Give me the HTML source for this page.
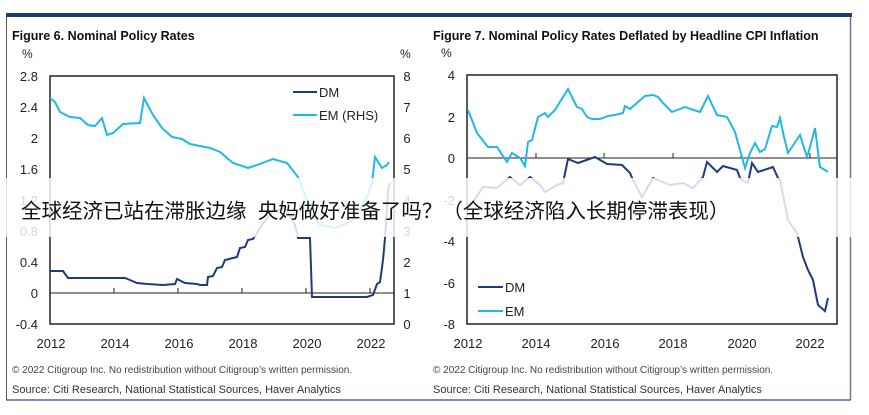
<!DOCTYPE html>
<html><head><meta charset="utf-8"><style>
body{margin:0;background:#fff;width:869px;height:415px;overflow:hidden}
svg{display:block;font-family:"Liberation Sans",Arial,sans-serif}
</style></head><body>
<svg width="869" height="415" viewBox="0 0 869 415">
<rect x="6" y="13" width="846" height="4" fill="#1f3b73"/>
<line x1="6.5" y1="17" x2="6.5" y2="400" stroke="#555" stroke-width="1"/>
<line x1="850.5" y1="17" x2="850.5" y2="400" stroke="#777" stroke-width="1.5"/>
<line x1="6" y1="400" x2="851" y2="400" stroke="#4a6a9a" stroke-width="1.5"/>

<!-- Left chart -->
<text x="12" y="40" font-size="12.5" font-weight="bold" fill="#111">Figure 6. Nominal Policy Rates</text>
<text x="22" y="58" font-size="12" fill="#222">%</text>
<text x="400" y="58" font-size="12" fill="#222">%</text>
<g font-size="13" fill="#222" text-anchor="end">
<text x="38" y="81">2.8</text><text x="38" y="112">2.4</text><text x="38" y="143">2</text><text x="38" y="174">1.6</text><text x="38" y="205">1.2</text><text x="38" y="236">0.8</text><text x="38" y="267">0.4</text><text x="38" y="298">0</text><text x="38" y="329">-0.4</text>
</g>
<g font-size="13" fill="#222" text-anchor="middle">
<text x="407" y="81">8</text><text x="407" y="112">7</text><text x="407" y="143">6</text><text x="407" y="174">5</text><text x="407" y="205">4</text><text x="407" y="236">3</text><text x="407" y="267">2</text><text x="407" y="298">1</text><text x="407" y="329">0</text>
<text x="51" y="348">2012</text><text x="115" y="348">2014</text><text x="179" y="348">2016</text><text x="243" y="348">2018</text><text x="307" y="348">2020</text><text x="371" y="348">2022</text>
</g>
<rect x="50" y="76" width="344" height="248" fill="none" stroke="#222" stroke-width="1.5"/>
<line x1="50" y1="293" x2="394" y2="293" stroke="#222" stroke-width="1"/>
<g stroke="#222" stroke-width="1"><line x1="114" y1="293" x2="114" y2="288"/><line x1="178" y1="293" x2="178" y2="288"/><line x1="242" y1="293" x2="242" y2="288"/><line x1="306" y1="293" x2="306" y2="288"/><line x1="370" y1="293" x2="370" y2="288"/></g>
<polyline fill="none" stroke="#1fb8e8" stroke-width="2" points="50,98 55,102 60,112 70,117 80,118 88,125 95,126 102,118 107,135 113,133 123,124 140,123 144,98 153,115 162,128 172,137 182,139 190,144 200,146 210,148 220,152 233,163 248,168 257,165 273,159 287,163 298,177 305,195 312,215 320,225 335,228 350,222 360,210 368,195 372,183 375,157 382,168 387,165 389,162"/>
<polyline fill="none" stroke="#1f3b7a" stroke-width="2" points="50,271 63,271 68,278 125,278 130,280 137,283 147,284 163,285 175,284 177,279 185,283 197,284 200,285 207,285 208,277 213,276 217,268 222,267 225,260 237,257 240,248 245,247 248,240 253,239 262,225 272,212 285,208 295,225 298,238 310,238 312,297 367,297 373,295 377,284 380,282 383,260 385,238 388,190 390,183"/>
<line x1="293" y1="92" x2="317" y2="92" stroke="#1f3b7a" stroke-width="2"/>
<text x="319" y="97" font-size="13" fill="#222">DM</text>
<line x1="293" y1="115" x2="317" y2="115" stroke="#1fb8e8" stroke-width="2"/>
<text x="319" y="120" font-size="13" fill="#222">EM (RHS)</text>
<text x="12" y="373" font-size="10" fill="#444">© 2022 Citigroup Inc. No redistribution without Citigroup’s written permission.</text>
<text x="12" y="393" font-size="11" fill="#333">Source: Citi Research, National Statistical Sources, Haver Analytics</text>

<!-- Right chart -->
<text x="433" y="40" font-size="12.5" font-weight="bold" fill="#111">Figure 7. Nominal Policy Rates Deflated by Headline CPI Inflation</text>
<text x="441" y="57" font-size="12" fill="#222">%</text>
<g font-size="13" fill="#222" text-anchor="end">
<text x="455" y="80">4</text><text x="455" y="122">2</text><text x="455" y="163">0</text><text x="455" y="205">-2</text><text x="455" y="246">-4</text><text x="455" y="288">-6</text><text x="455" y="329">-8</text>
</g>
<g font-size="13" fill="#222" text-anchor="middle">
<text x="468" y="348">2012</text><text x="536" y="348">2014</text><text x="605" y="348">2016</text><text x="673" y="348">2018</text><text x="742" y="348">2020</text><text x="810" y="348">2022</text>
</g>
<rect x="467" y="75" width="370" height="249" fill="none" stroke="#222" stroke-width="1.5"/>
<line x1="467" y1="158" x2="837" y2="158" stroke="#222" stroke-width="1"/>
<g stroke="#222" stroke-width="1"><line x1="536" y1="158" x2="536" y2="153"/><line x1="604" y1="158" x2="604" y2="153"/><line x1="673" y1="158" x2="673" y2="153"/><line x1="741" y1="158" x2="741" y2="153"/><line x1="810" y1="158" x2="810" y2="153"/></g>
<polyline fill="none" stroke="#1fb8e8" stroke-width="2" points="468,110 477,133 488,147 497,147 507,162 512,153 520,158 525,166 528,142 532,140 538,117 545,113 548,117 555,110 568,89 577,107 582,109 587,117 592,119 600,119 608,116 615,115 623,113 625,106 630,109 638,102 645,96 653,95 658,97 663,103 672,112 685,107 697,111 700,112 708,96 717,115 727,117 735,132 745,168 750,153 755,143 760,152 765,149 772,126 777,127 780,118 784,137 788,153 800,135 807,157 810,147 815,128 820,167 828,172"/>
<polyline fill="none" stroke="#1f3b7a" stroke-width="2" points="467,205 473,202 483,187 497,188 510,177 520,185 530,177 540,185 545,192 557,185 563,183 568,159 578,163 595,157 607,164 622,165 630,173 633,180 642,197 653,178 670,185 683,183 693,188 703,177 707,162 717,172 723,166 737,170 740,178 745,182 748,183 752,163 758,172 773,167 778,178 780,180 788,220 797,233 803,257 808,270 813,280 818,305 825,311 828,298"/>
<line x1="478" y1="287" x2="503" y2="287" stroke="#1f3b7a" stroke-width="2"/>
<text x="505" y="292" font-size="13" fill="#222">DM</text>
<line x1="478" y1="311" x2="503" y2="311" stroke="#1fb8e8" stroke-width="2"/>
<text x="505" y="316" font-size="13" fill="#222">EM</text>
<text x="433" y="373" font-size="10" fill="#444">© 2022 Citigroup Inc. No redistribution without Citigroup’s written permission.</text>
<text x="433" y="393" font-size="11" fill="#333">Source: Citi Research, National Statistical Sources, Haver Analytics</text>

<!-- overlay band -->
<rect x="5" y="178" width="847" height="59" fill="#fff" fill-opacity="0.82"/>
<text x="21" y="218" font-size="20.5" fill="#111" font-family="'Liberation Sans','Noto Sans CJK SC',sans-serif">全球经济已站在滞胀边缘&#160;&#160;央妈做好准备了吗？（全球经济陷入长期停滞表现）</text>
</svg>
</body></html>
